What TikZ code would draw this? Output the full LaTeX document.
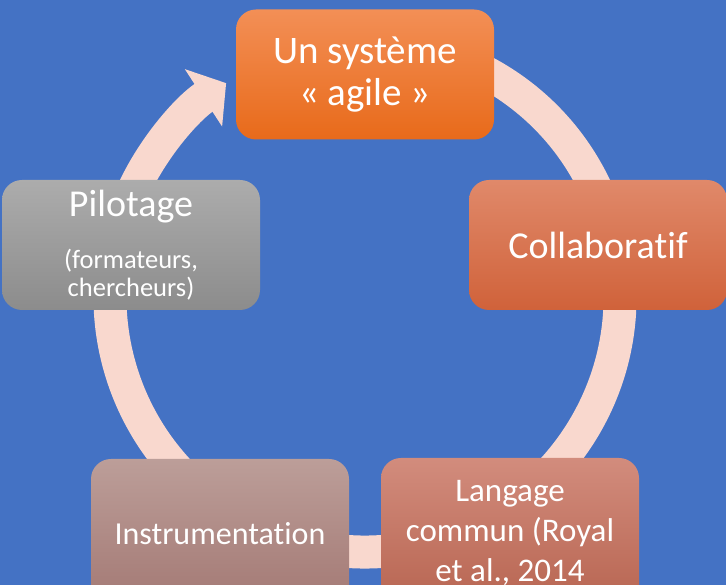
\documentclass[tikz,border=0pt]{standalone}
\usepackage{fontspec}
\setmainfont{Carlito}[Ligatures={TeX,NoCommon}]
\usetikzlibrary{arrows.meta}
\definecolor{bgblue}{RGB}{68,114,196}
\definecolor{ringpink}{RGB}{249,216,206}
\definecolor{agiletop}{RGB}{243,143,86}
\definecolor{agilebot}{RGB}{232,106,26}
\definecolor{collabtop}{RGB}{224,137,106}
\definecolor{collabbot}{RGB}{208,98,58}
\definecolor{pilottop}{RGB}{172,172,172}
\definecolor{pilotbot}{RGB}{140,140,140}
\definecolor{instrtop}{RGB}{188,158,153}
\definecolor{instrbot}{RGB}{163,120,115}
\definecolor{langtop}{RGB}{210,140,125}
\definecolor{langbot}{RGB}{183,100,80}
\tikzset{
    cyclebox/.style={rectangle, rounded corners=20pt, minimum width=258pt, minimum height=130pt, text=white, align=center, inner sep=0pt},
    lowbox/.style={cyclebox, minimum height=150pt},
    ringarrow/.style={ringpink, line width=33pt, -{Triangle[length=27pt, width=67pt]}},
}

\begin{document}
\begin{tikzpicture}[x=1pt, y=1pt]
% Background
\clip (0,0) rectangle (726,585);
\fill[bgblue] (0,0) rectangle (726,585);
\coordinate (ctr) at (365,288);

% Cycle ring (behind the boxes)
\draw[ringarrow] (ctr) ++(62:255) arc[start angle=62, end angle=-237, radius=255];

% Boxes, clockwise from the top
\node[cyclebox, top color=agiletop, bottom color=agilebot, font=\fontsize{39}{42}\selectfont] (agile) at (365,510.5) {Un système\\« agile »};
\node[cyclebox, top color=collabtop, bottom color=collabbot, font=\fontsize{38}{42}\selectfont] (collab) at (598,340) {Collaboratif};
\node[lowbox, top color=langtop, bottom color=langbot, font=\fontsize{33}{40}\selectfont] (langage) at (510,52) {Langage\\commun (Royal\\et al., 2014};
\node[lowbox, top color=instrtop, bottom color=instrbot, font=\fontsize{32}{38}\selectfont] (instr) at (220,51) {Instrumentation};
\node[cyclebox, top color=pilottop, bottom color=pilotbot, font=\fontsize{26.5}{28}\selectfont] (pilot) at (131,340) {{\fontsize{38}{42}\selectfont Pilotage}\\[24pt](formateurs,\\chercheurs)};
\end{tikzpicture}
\end{document}
